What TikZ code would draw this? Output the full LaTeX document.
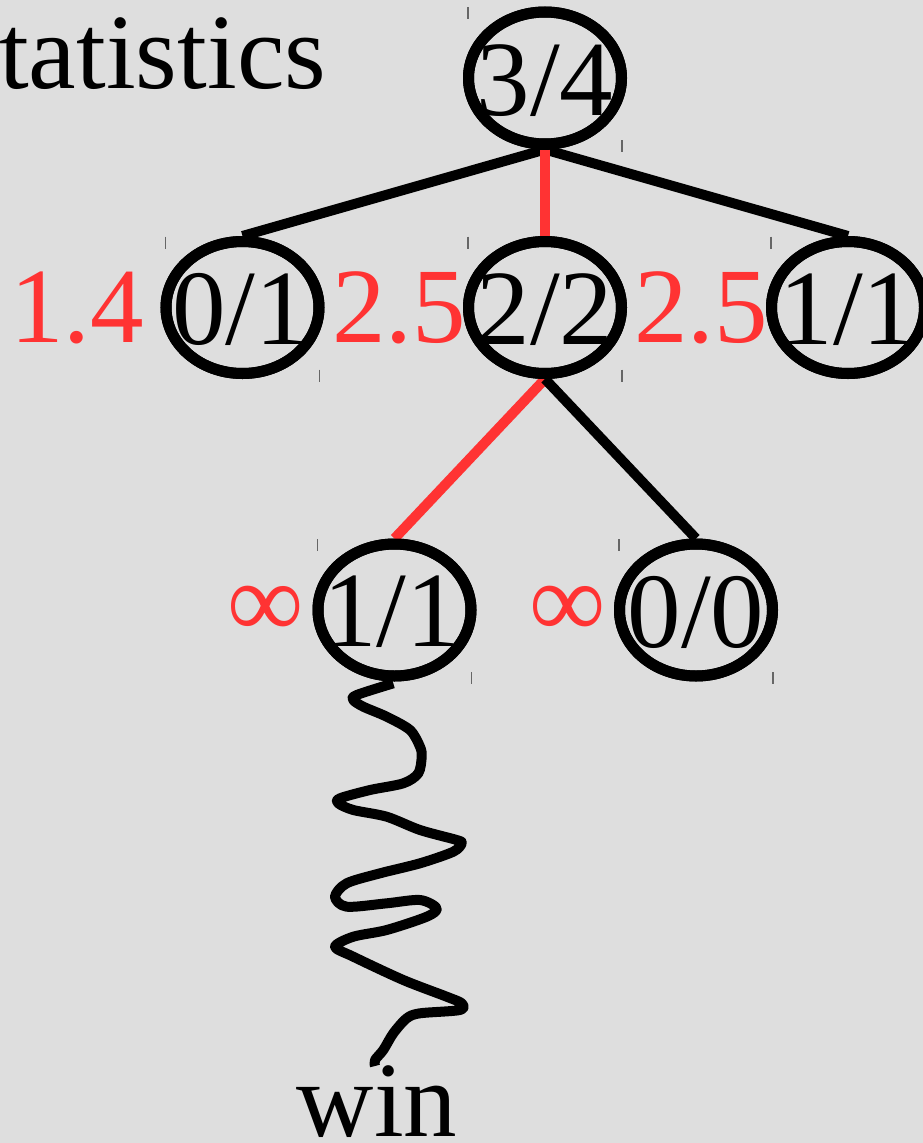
\documentclass[tikz,border=0pt]{standalone}
\usepackage{fontspec}
\setmainfont{Liberation Serif}
\usetikzlibrary{shapes.geometric,calc}
\definecolor{bg}{RGB}{222,222,222}
\definecolor{hl}{RGB}{255,51,51}
\begin{document}
\begin{tikzpicture}[x=1pt,y=-1pt,
  big/.style={font=\fontsize{107}{107}\selectfont, inner sep=0pt},
  stat/.style={ellipse, draw=black, line width=11pt, minimum width=153pt, minimum height=132pt, inner sep=0pt},
  numtxt/.style={big, anchor=center},
  score/.style={big, text=hl},
  edge/.style={line width=10pt, draw=black},
  sel/.style={line width=10pt, draw=hl},
  tick/.style={draw=black!60, line width=1.2pt}]
\fill[bg] (0,0) rectangle (923,1143);
\useasboundingbox (0,0) rectangle (923,1143);

% ellipse shapes
\node[stat] (r) at (545,78) {};
\node[stat] (a) at (242.5,307.5) {};
\node[stat] (b) at (545,307.5) {};
\node[stat] (c) at (848,307.5) {};
\node[stat] (d) at (394.5,610) {};
\node[stat] (e) at (696,610) {};

% connectors
\draw[edge] (r.south) -- (a.north);
\draw[edge] (r.south) -- (c.north);
\draw[sel] (r.south) -- (b.north);
\draw[sel] (b.south) -- (d.north);
\draw[edge] (b.south) -- (e.north);

% redraw ellipses over connectors
\foreach \n in {r,a,b,c,d,e} {\draw[line width=11pt] (\n) ellipse [x radius=76.5pt, y radius=66pt];}

% texts
\node[numtxt] (rt) at ($(r)+(0,3)$) {3/4};
\node[numtxt] (at) at ($(a)+(-2,2)$) {0/1};
\node[numtxt] (bt) at ($(b)+(0,2)$) {2/2};
\node[numtxt] (ct) at ($(c)+(0,2)$) {1/1};
\node[numtxt] (dt) at ($(d)+(-3,2)$) {1/1};
\node[numtxt] (et) at ($(e)+(0,2)$) {0/0};

\node[score, anchor=base] (s1) at (77,342) {1.4};
\node[score, anchor=base] (s2) at (399,342) {2.5};
\node[score, anchor=base] (s3) at (701,342) {2.5};
\node[score, anchor=center] (s4) at (266,612) {∞};
\node[score, anchor=center] (s5) at (568,612) {∞};

\node[big, anchor=base west] (title) at (-1,88) {tatistics};
\node[big, anchor=base] (win) at (377,1136) {win};

% tick marks
\foreach \n in {r,a,b,c,d,e} {
  \draw[tick] ($(\n)+(-77,-71)$) -- ++(0,12);
  \draw[tick] ($(\n)+(77,62)$) -- ++(0,12);
}

% playout wiggle
\coordinate (wend) at (375,1066);
\draw[edge, line join=round] plot[smooth, tension=0.5] coordinates {
 (393.3,683.3) (356.7,695) (353.3,700) (363.3,706.7) (386.7,716.7) (410,730)
 (420,746.7) (421.7,756.7) (418.3,773.3) (403.3,783.3) (370,790) (340,798.3)
 (338.3,803.3) (353.3,810) (386.7,816.7) (420,830) (456.7,840) (461.7,843.3)
 (453.3,851.7) (420,863.3) (380,873.3) (346.7,883.3) (335,896.7) (346.7,906.7)
 (386.7,903.3) (420,900) (436.7,908.3) (426.7,916.7) (386.7,930) (353.3,936.7)
 (335,946.7) (353.3,956.7) (403.3,980) (446.7,996.7) (461.7,1003.3) (460,1010)
 (420,1013.3) (406.7,1018.3) (393.3,1033.3) (383.3,1050) (375,1060) (wend)};
\end{tikzpicture}
\end{document}
